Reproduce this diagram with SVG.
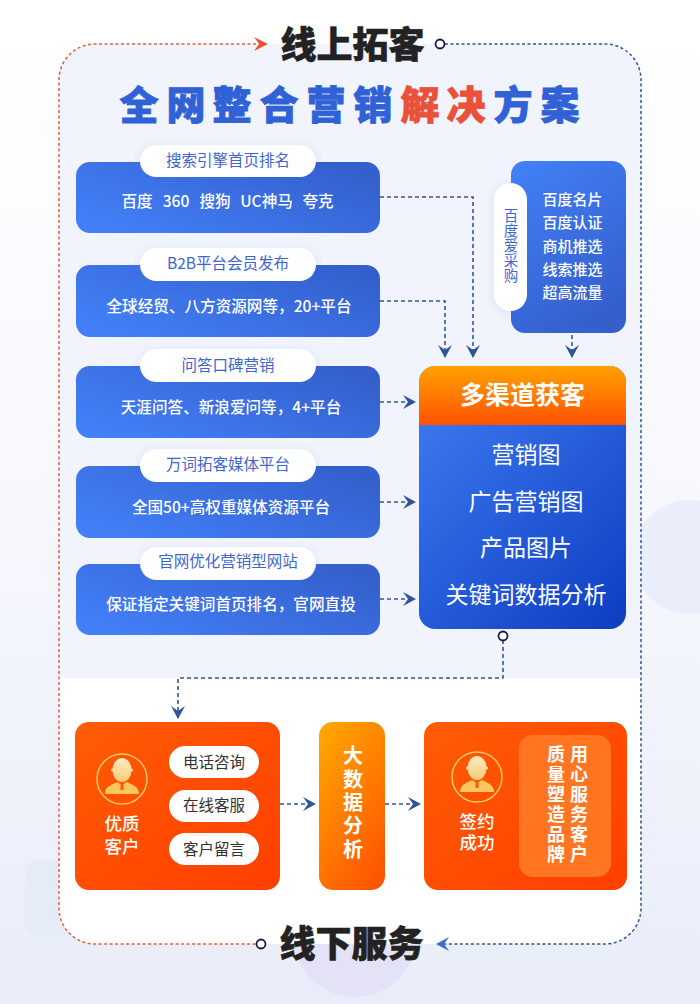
<svg xmlns="http://www.w3.org/2000/svg" xmlns:xlink="http://www.w3.org/1999/xlink" width="700" height="1004" viewBox="0 0 700 1004">
<style>
text{font-family:"Noto Sans CJK SC","Noto Sans",sans-serif;text-anchor:middle}
.big{font-size:36px;font-weight:900;fill:#222;stroke:#222;stroke-width:.6}
.ttl{font-size:39px;font-weight:900;fill:#3061d6;stroke:#3061d6;stroke-width:.8}
.red{fill:#ea5139;stroke:#ea5139}
.pt{font-size:15.500px;fill:#3f66d0}
.ct{font-size:15.600px;fill:#fff;font-weight:500}
.mt{font-size:23px;fill:#fff}
.wb{fill:#fff;font-weight:700}
.lb{font-size:17.500px;fill:#fff;font-weight:500}
.gt{font-size:15.500px;fill:#333}
.vt{writing-mode:vertical-rl}
.ln{fill:none;stroke:#2f5597;stroke-width:1.6;stroke-dasharray:4 3}
.bd{fill:none;stroke-width:1.5;stroke-dasharray:3 2.500}
.dot{fill:#fff;stroke:#141c4c;stroke-width:1.8}
.pill{fill:#fff;filter:url(#sh)}
</style>
<defs>
<linearGradient id="bg" x1="0" y1="0" x2="0" y2="1"><stop offset="0" stop-color="#fff"/><stop offset=".5" stop-color="#f6f8fd"/><stop offset="1" stop-color="#e9edf9"/></linearGradient>
<linearGradient id="blue" x1="0" y1=".8" x2="1" y2=".2"><stop offset="0" stop-color="#4280f8"/><stop offset="1" stop-color="#345fcc"/></linearGradient>
<linearGradient id="blue2" x1=".1" y1="0" x2=".6" y2="1"><stop offset="0" stop-color="#4280f6"/><stop offset="1" stop-color="#345fcc"/></linearGradient>
<linearGradient id="main" x1=".1" y1="0" x2=".9" y2="1"><stop offset="0" stop-color="#3f7cf2"/><stop offset="1" stop-color="#0f40c4"/></linearGradient>
<linearGradient id="hd" x1="0" y1="0" x2="0" y2="1"><stop offset="0" stop-color="#ffa200"/><stop offset="1" stop-color="#ff5200"/></linearGradient>
<linearGradient id="org" x1="0" y1="0" x2="1" y2="1"><stop offset="0" stop-color="#ff5c05"/><stop offset="1" stop-color="#ff3f00"/></linearGradient>
<linearGradient id="org2" x1=".2" y1="0" x2=".8" y2="1"><stop offset="0" stop-color="#ffa400"/><stop offset="1" stop-color="#ff5400"/></linearGradient>
<linearGradient id="ic" x1="0" y1="0" x2="0" y2="1"><stop offset="0" stop-color="#fdeac0"/><stop offset="1" stop-color="#fbcb78"/></linearGradient>
<filter id="sh" x="-30%" y="-30%" width="160%" height="160%"><feDropShadow dx="0" dy="2" stdDeviation="4" flood-color="#3f66d0" flood-opacity=".15"/></filter>
<marker id="a" markerUnits="userSpaceOnUse" markerWidth="16" markerHeight="16" refX="13" refY="8" orient="auto" viewBox="0 0 16 16"><path d="M1 1L14 8L1 15L6 8Z" fill="#2f5597"/></marker>
<marker id="ab" markerUnits="userSpaceOnUse" markerWidth="16" markerHeight="16" refX="13" refY="8" orient="auto" viewBox="0 0 16 16"><path d="M1 1L14 8L1 15L6 8Z" fill="#3a6cd8"/></marker>
<g id="person"><circle r="25" fill="none" stroke="#ffc766" stroke-width="1.500"/><ellipse cy="-9" rx="9.500" ry="12" fill="url(#ic)"/><circle cx="-9.500" cy="-9" r="1.600" fill="#fde0a0"/><circle cx="9.500" cy="-9" r="1.600" fill="#fde0a0"/><path d="M-17 15C-17 7-10 6-5 3L0 6L5 3C10 6 17 7 17 15Z" fill="#fdc65f"/><rect x="-1.500" y="5" width="3" height="6" fill="#ff5a05"/></g>
</defs>

<g id="background">
<rect width="700" height="1004" fill="url(#bg)"/>
<circle cx="690" cy="557" r="57" fill="#e9eefa"/>
<rect x="25" y="860" width="70" height="76" rx="14" fill="#e5ebf7"/>
<circle cx="355" cy="935" r="62" fill="#e4e2f7"/>
<path d="M95 44H605A36 36 0 0 1 641 80V678H59V80A36 36 0 0 1 95 44Z" fill="#f1f4fc"/>
<path d="M59 678H641V908A36 36 0 0 1 605 944H95A36 36 0 0 1 59 908Z" fill="#fff"/>
</g>

<g id="headings">
<text class="big" x="352.500" y="58">线上拓客</text><text class="big" x="351.500" y="957">线下服务</text>
<text class="ttl" x="139" y="119">全</text><text class="ttl" x="186" y="119">网</text><text class="ttl" x="232" y="119">整</text><text class="ttl" x="279" y="119">合</text><text class="ttl" x="326" y="119">营</text><text class="ttl" x="373" y="119">销</text><text class="ttl red" x="420" y="119">解</text><text class="ttl red" x="466" y="119">决</text><text class="ttl" x="513" y="119">方</text><text class="ttl" x="560" y="119">案</text>
</g>

<g id="connectors">
<path class="bd" stroke="#ea5a39" d="M256 44H95A36 36 0 0 0 59 80V908A36 36 0 0 0 95 944H256"/>
<path d="M254 37L268 44L254 51L259 44Z" fill="#ea5139"/>
<path class="bd" stroke="#2f5597" d="M445 44H605A36 36 0 0 1 641 80V908A36 36 0 0 1 605 944H437" marker-end="url(#ab)"/>
<path class="ln" d="M380 197H473V357" marker-end="url(#a)"/>
<path class="ln" d="M380 301H445V357" marker-end="url(#a)"/>
<path class="ln" d="M572 335V357" marker-end="url(#a)"/>
<path class="ln" d="M380 402H415" marker-end="url(#a)"/>
<path class="ln" d="M380 502H415" marker-end="url(#a)"/>
<path class="ln" d="M380 599H415" marker-end="url(#a)"/>
<path class="ln" d="M503 640V678H178V718" marker-end="url(#a)"/>
<path class="ln" d="M280 804H315" marker-end="url(#a)"/>
<path class="ln" d="M385 804H420" marker-end="url(#a)"/>
<circle class="dot" cx="440" cy="44" r="4.500"/>
<circle class="dot" cx="261" cy="944" r="4.500"/>
<circle class="dot" cx="503" cy="636" r="4.500"/>
</g>

<g id="node-search"><rect x="76" y="162" width="304" height="71" rx="14" fill="url(#blue)"/><rect class="pill" x="140" y="145" width="176" height="32" rx="16"/><text class="pt" x="228" y="166">搜索引擎首页排名</text>
<text class="ct" y="207"><tspan x="137">百度</tspan><tspan x="176">360</tspan><tspan x="215">搜狗</tspan><tspan x="266.500">UC神马</tspan><tspan x="318">夸克</tspan></text></g>
<g id="node-b2b"><rect x="76" y="265" width="304" height="72" rx="14" fill="url(#blue)"/><rect class="pill" x="140" y="248" width="176" height="33" rx="16.500"/><text class="pt" x="228" y="269">B2B平台会员发布</text><text class="ct" x="229" y="312">全球经贸、八方资源网等，20+平台</text></g>
<g id="node-qa"><rect x="76" y="366" width="304" height="72" rx="14" fill="url(#blue)"/><rect class="pill" x="140" y="349" width="176" height="33" rx="16.500"/><text class="pt" x="228" y="371">问答口碑营销</text><text class="ct" x="231" y="413">天涯问答、新浪爱问等，4+平台</text></g>
<g id="node-media"><rect x="76" y="466" width="304" height="72" rx="14" fill="url(#blue)"/><rect class="pill" x="140" y="449" width="176" height="33" rx="16.500"/><text class="pt" x="228" y="470">万词拓客媒体平台</text><text class="ct" x="231" y="513">全国50+高权重媒体资源平台</text></g>
<g id="node-site"><rect x="76" y="564" width="304" height="71" rx="14" fill="url(#blue)"/><rect class="pill" x="140" y="547" width="176" height="33" rx="16.500"/><text class="pt" x="228" y="567">官网优化营销型网站</text><text class="ct" x="231" y="610">保证指定关键词首页排名，官网直投</text></g>

<g id="node-aicaigou"><rect x="511" y="161" width="115" height="172" rx="14" fill="url(#blue2)"/><rect class="pill" x="494" y="183" width="33" height="128" rx="16.500"/>
<text class="pt vt" x="511" y="246" style="font-size:14.500px;letter-spacing:.6px">百度爱采购</text>
<text class="ct" x="572.500" y="205" style="font-size:15px">百度名片</text><text class="ct" x="572.500" y="228" style="font-size:15px">百度认证</text><text class="ct" x="572.500" y="252" style="font-size:15px">商机推选</text><text class="ct" x="572.500" y="275" style="font-size:15px">线索推选</text><text class="ct" x="572.500" y="298" style="font-size:15px">超高流量</text></g>

<g id="node-main"><rect x="419" y="366" width="207" height="263" rx="16" fill="url(#main)"/><path d="M419 425V382A16 16 0 0 1 435 366H610A16 16 0 0 1 626 382V425Z" fill="url(#hd)"/>
<text class="wb" x="522.500" y="404" style="font-size:25px">多渠道获客</text>
<text class="mt" x="526" y="463">营销图</text><text class="mt" x="526" y="510">广告营销图</text><text class="mt" x="526" y="556">产品图片</text><text class="mt" x="526" y="603">关键词数据分析</text></g>

<g id="node-client"><rect x="75" y="722" width="205" height="168" rx="14" fill="url(#org)"/><use xlink:href="#person" x="122" y="779"/>
<text class="lb"><tspan x="122" y="830">优质</tspan><tspan x="122" y="853">客户</tspan></text>
<rect x="169" y="746" width="90" height="32" rx="16" fill="#fff"/><text class="gt" x="214" y="768">电话咨询</text>
<rect x="169" y="790" width="90" height="32" rx="16" fill="#fff"/><text class="gt" x="214" y="811">在线客服</text>
<rect x="169" y="833" width="90" height="32" rx="16" fill="#fff"/><text class="gt" x="214" y="855">客户留言</text></g>

<g id="node-data"><rect x="319" y="722" width="66" height="168" rx="14" fill="url(#org2)"/>
<text class="wb vt" x="353" y="804" style="font-size:20px;letter-spacing:3.300px">大数据分析</text></g>

<g id="node-sign"><rect x="424" y="722" width="203" height="168" rx="14" fill="url(#org)"/><use xlink:href="#person" x="477" y="777"/>
<text class="lb"><tspan x="477" y="828">签约</tspan><tspan x="477" y="849">成功</tspan></text>
<rect x="519" y="735" width="92" height="142" rx="14" fill="#ff7522"/>
<text class="wb vt" x="556" y="805" style="font-size:18px;letter-spacing:2px">质量塑造品牌</text>
<text class="wb vt" x="579" y="805" style="font-size:18px;letter-spacing:2px">用心服务客户</text></g>
</svg>
